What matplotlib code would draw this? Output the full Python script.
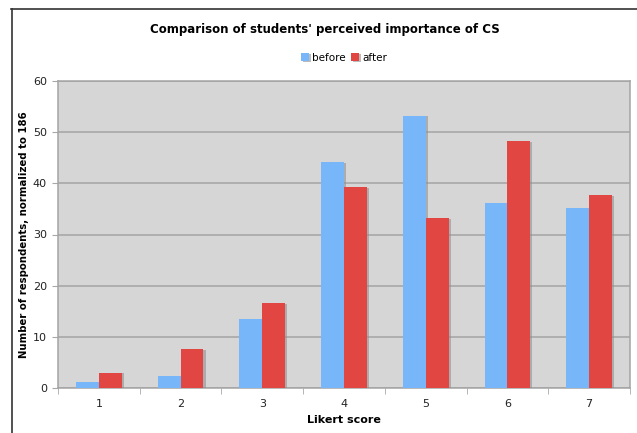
import matplotlib
matplotlib.use("Agg")
import matplotlib.pyplot as plt
import matplotlib.patheffects as pe
from matplotlib.lines import Line2D
import numpy as np

categories = ["1", "2", "3", "4", "5", "6", "7"]
before = [1.1, 2.3, 13.5, 44.2, 53.2, 36.2, 35.1]
after = [3.0, 7.6, 16.6, 39.2, 33.2, 48.3, 37.7]
yticks = [0, 10, 20, 30, 40, 50, 60]

plt.rcParams['font.family'] = ['DejaVu Sans']

W, H = 637, 433
fig = plt.figure(figsize=(W/100, H/100), dpi=100)
fig.patch.set_facecolor("white")

ax = fig.add_axes([58/W, 1-388/H, (630-58)/W, (388-81)/H])
ax.set_facecolor("#d6d6d6")

x = np.arange(len(categories))
bw = 0.28
shadow = [pe.SimplePatchShadow(offset=(1.5, -0.5), shadow_rgbFace="#909090", alpha=0.6), pe.Normal()]
b1 = ax.bar(x - bw/2, before, bw, color="#78b6fa", label="before", zorder=3, path_effects=shadow)
b2 = ax.bar(x + bw/2, after, bw, color="#e24642", label="after", zorder=3, path_effects=shadow)

ax.set_xlim(-0.5, len(categories) - 0.5)
ax.set_ylim(0, 60)
ax.set_yticks(yticks)
ax.set_yticklabels([str(v) for v in yticks], fontsize=8, color="#222222")
ax.set_xticks(x)
ax.set_xticklabels(categories, fontsize=8, color="#222222")
ax.tick_params(axis="x", length=0, pad=8)
ax.set_xticks(np.arange(len(categories)+1) - 0.5, minor=True)
ax.tick_params(axis="x", which="minor", length=4, color="#a8a8a8")
ax.tick_params(axis="y", length=4, color="#a8a8a8", pad=4)
ax.yaxis.grid(True, color="#a4a4a4", linewidth=1.1, zorder=1)
ax.set_axisbelow(True)
for s in ax.spines.values():
    s.set_color("#a4a4a4")
    s.set_linewidth(1.1)

ax.set_xlabel("Likert score", fontsize=8, fontweight="bold", labelpad=4)
ax.set_ylabel("Number of respondents, normalized to 186", fontsize=7.3, fontweight="bold", labelpad=3)

fig.text(325/W, 1-30/H, "Comparison of students' perceived importance of CS",
         ha="center", va="center", fontsize=8.5, fontweight="bold")
fig.legend(handles=[b1, b2], labels=["before", "after"], loc="center",
           bbox_to_anchor=(344/W, 1-58/H), ncol=2, frameon=False, fontsize=7.5,
           handlelength=0.8, handleheight=0.8, handletextpad=0.3, columnspacing=0.5)

fig.add_artist(Line2D([11.5/W, 11.5/W], [0, 1-9/H], color="#333333", linewidth=1.2))
fig.add_artist(Line2D([11/W, 1], [1-9/H, 1-9/H], color="#333333", linewidth=1.2))

fig.savefig("out.png", dpi=100)
